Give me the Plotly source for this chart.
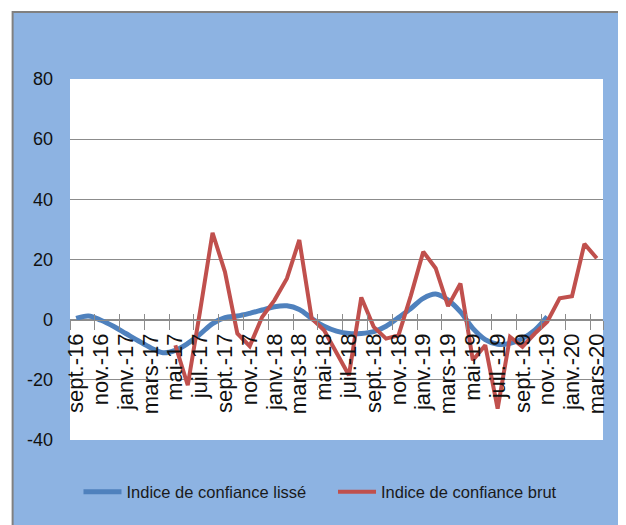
import plotly.graph_objects as go

months = ["sept.-16", "oct.-16", "nov.-16", "déc.-16",
          "janv.-17", "févr.-17", "mars-17", "avr.-17", "mai-17", "juin-17",
          "juil.-17", "août-17", "sept.-17", "oct.-17", "nov.-17", "déc.-17",
          "janv.-18", "févr.-18", "mars-18", "avr.-18", "mai-18", "juin-18",
          "juil.-18", "août-18", "sept.-18", "oct.-18", "nov.-18", "déc.-18",
          "janv.-19", "févr.-19", "mars-19", "avr.-19", "mai-19", "juin-19",
          "juil.-19", "août-19", "sept.-19", "oct.-19", "nov.-19", "déc.-19",
          "janv.-20", "févr.-20", "mars-20"]

lisse = [0.4, 1.2, -0.2, -2.2, -4.6, -7.0, -9.3, -11.0, -10.2, -7.9,
         -4.8, -1.3, 0.7, 1.2, 2.1, 3.2, 4.3, 4.6, 3.4, 0.4,
         -2.2, -3.8, -4.6, -4.6, -4.0, -2.2, 0.7, 3.7, 7.1, 8.5,
         6.5, 2.6, -2.9, -6.6, -8.2, -7.9, -6.3, -3.5, 1.0,
         None, None, None, None]

brut = [None, None, None, None, None, None, None, None,
        -8.5, -21.8, 3.0, 28.9, 15.9, -4.6, -8.8, 0.9, 6.5, 13.7, 26.5, 0.4,
        -3.5, -11.2, -18.5, 7.4, -2.4, -6.3, -5.2, 8.0, 22.6, 17.1,
        4.5, 12.0, -13.5, -8.5, -29.6, -5.7, -9.0, -4.6, -0.7, 7.1,
        7.8, 25.2, 20.4]

y_ticks = [-40, -20, 0, 20, 40, 60, 80]
y_labels = ["-40", "-20", "0", "20", "40", "60", "80"]

idx = list(range(len(months)))
label_pos = idx[::2]
label_txt = months[::2]
boundaries = [i - 0.5 for i in idx[::2]] + [len(months) - 0.5]

BLUE = "#4F81BD"
RED = "#C0504D"
GRID = "#8C8C8C"
FRAME = "#8DB3E2"
SANS = "Liberation Sans, Arial, sans-serif"

# page body adds an 8px offset, so the figure is drawn 8px smaller
OFF = 8
W, H = 626 - OFF, 525 - OFF
L, T = 69.5 - OFF, 79 - OFF
R = W - (603.5 - OFF)
B = H - (440 - OFF)
pw, ph = W - L - R, H - T - B
bottom_px = 440 - OFF

fig = go.Figure()
fig.add_trace(go.Scatter(x=idx, y=lisse, mode="lines", name="Indice de confiance lissé",
                         legend="legend",
                         line=dict(color=BLUE, width=5, shape="spline", smoothing=1)))
fig.add_trace(go.Scatter(x=idx, y=brut, mode="lines", name="Indice de confiance brut",
                         legend="legend2",
                         line=dict(color=RED, width=4)))
# carrier traces for the tick-mark axes
fig.add_trace(go.Scatter(x=[idx[0]], y=[None], xaxis="x2", showlegend=False, hoverinfo="skip"))
fig.add_trace(go.Scatter(x=[idx[0]], y=[None], xaxis="x3", showlegend=False, hoverinfo="skip"))

xr = [-0.5, len(months) - 0.5]
zero_pos = (0 - y_ticks[0]) / (y_ticks[-1] - y_ticks[0])

leg_y = (bottom_px - (492 - OFF)) / ph
leg_common = dict(orientation="h", y=leg_y, xanchor="left", yanchor="middle",
                  font=dict(family=SANS, size=16.5, color="#1a1a1a"),
                  bgcolor="rgba(0,0,0,0)", itemwidth=38)

fig.update_layout(
    width=W, height=H,
    margin=dict(l=L, r=R, t=T, b=B, autoexpand=False),
    paper_bgcolor="white",
    plot_bgcolor="rgba(0,0,0,0)",
    showlegend=True,
    legend=dict(x=(78 - OFF - L) / pw, **leg_common),
    legend2=dict(x=(333 - OFF - L) / pw, **leg_common),
    xaxis=dict(range=xr, tickmode="array", tickvals=label_pos, ticktext=label_txt,
               tickangle=-90, ticks="", showgrid=False, zeroline=False,
               showline=True, linecolor=GRID, linewidth=1,
               anchor="free", position=zero_pos, ticklabelstandoff=4,
               tickfont=dict(family=SANS, size=22, color="#111")),
    xaxis2=dict(range=xr, overlaying="x", anchor="free", position=zero_pos,
                tickmode="array", tickvals=boundaries, ticks="inside", ticklen=6,
                tickcolor=GRID, showticklabels=False, showgrid=False, zeroline=False,
                showline=False),
    xaxis3=dict(range=xr, overlaying="x", anchor="free", position=zero_pos,
                tickmode="array", tickvals=boundaries, ticks="outside", ticklen=9,
                tickcolor=GRID, showticklabels=False, showgrid=False, zeroline=False,
                showline=False),
    yaxis=dict(range=[y_ticks[0], y_ticks[-1]], tickmode="array", tickvals=y_ticks,
               ticktext=y_labels,
               showgrid=True, gridcolor=GRID, gridwidth=1, zeroline=False,
               ticks="", ticklabelstandoff=16,
               tickfont=dict(family=SANS, size=18, color="#111")),
    shapes=[
        dict(type="rect", xref="paper", yref="paper",
             x0=(12 - OFF - L) / pw, x1=(W + 5 - L) / pw,
             y0=(bottom_px - (H + 5)) / ph, y1=(bottom_px - (12 - OFF)) / ph,
             fillcolor=FRAME, line=dict(color="#808080", width=2), layer="below"),
        dict(type="rect", xref="paper", yref="paper", x0=0, x1=1, y0=0, y1=1,
             fillcolor="white", line=dict(width=0), layer="below"),
    ],
)

fig.write_html("out.html")
